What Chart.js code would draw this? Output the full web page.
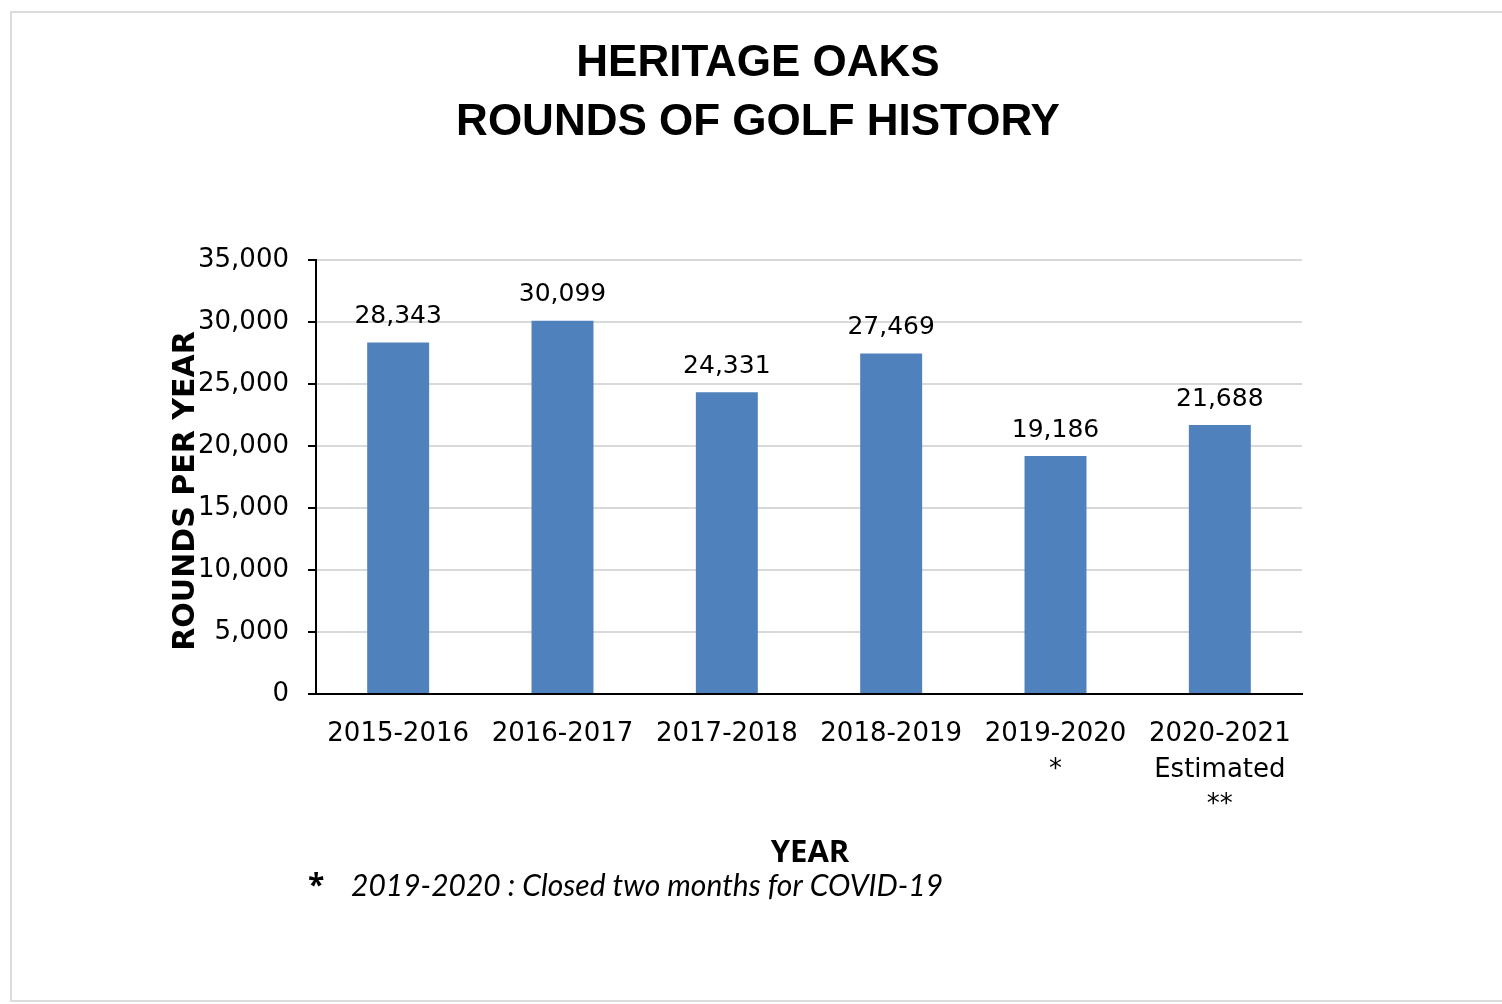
<!DOCTYPE html>
<html>
<head>
<meta charset="utf-8">
<script src="https://cdn.jsdelivr.net/npm/chart.js"></script>
<style>
  html, body { margin: 0; padding: 0; background: #fff; overflow: hidden; }
  #wrap { position: relative; width: 1502px; height: 1004px; overflow: hidden; }
  #frame { position: absolute; left: 10px; top: 11px; width: 1520px; height: 991px; border: 2px solid #dcdcdc; box-sizing: border-box; }
  canvas { position: absolute; left: 0; top: 0; }
</style>
</head>
<body>
<div id="wrap">
  <div id="frame"></div>
  <canvas id="golfChart" width="1502" height="1004"></canvas>
</div>
<script>
// chart data
const categories = ['2015-2016', '2016-2017', '2017-2018', '2018-2019', ['2019-2020', '*'], ['2020-2021', 'Estimated', '**']];
const rounds = [28343, 30099, 24331, 27469, 19186, 21688];
const yTicks = [0, 5000, 10000, 15000, 20000, 25000, 30000, 35000];
const titleLines = ['HERITAGE OAKS', 'ROUNDS OF GOLF HISTORY'];
const yTitle = 'ROUNDS PER YEAR';
const xTitle = 'YEAR';
const footnote = '2019-2020 : Closed two months for COVID-19';

const tickFont = '"DejaVu Sans", sans-serif';
const fmt = v => v.toLocaleString('en-US');

// titles, axis titles, footnote and bar value labels
const textPlugin = {
    id: 'textPlugin',
    afterDatasetsDraw(chart) {
        const ctx = chart.ctx;
        ctx.save();
        ctx.fillStyle = '#000';
        ctx.textAlign = 'center';
        ctx.textBaseline = 'middle';

        // values above bars
        ctx.font = '25px ' + tickFont;
        chart.getDatasetMeta(0).data.forEach((bar, i) => {
            ctx.fillText(fmt(rounds[i]), bar.x, bar.y - 26);
        });

        // main title
        ctx.font = 'bold 44px "Liberation Sans", sans-serif';
        ctx.fillText(titleLines[0], 758, 64);
        ctx.fillText(titleLines[1], 758, 123);

        // y title
        ctx.save();
        ctx.translate(186, 491);
        ctx.rotate(-Math.PI / 2);
        ctx.font = 'bold 30px "DejaVu Sans", sans-serif';
        ctx.fillText(yTitle, 0, 0);
        ctx.restore();

        // x title
        ctx.font = 'bold 31px "Open Sans", sans-serif';
        ctx.fillText(xTitle, 810, 853);

        // footnote
        ctx.textAlign = 'left';
        ctx.font = 'bold 30px "Open Sans", sans-serif';
        ctx.fillText('*', 308, 886);
        ctx.font = 'italic 30px Lato, sans-serif';
        ctx.fillText(footnote, 351, 886);
        ctx.restore();
    }
};

new Chart(document.getElementById('golfChart').getContext('2d'), {
    type: 'bar',
    data: {
        labels: categories,
        datasets: [{
            data: rounds,
            backgroundColor: '#4f81bd',
            categoryPercentage: 1,
            barPercentage: 0.377
        }]
    },
    options: {
        responsive: false,
        animation: false,
        layout: { padding: { top: 260, right: 200, left: 0, bottom: 0 } },
        plugins: { legend: { display: false }, tooltip: { enabled: false } },
        scales: {
            x: {
                grid: { display: false },
                border: { display: true, color: '#000', width: 2 },
                ticks: {
                    color: '#000',
                    font: { family: tickFont, size: 26, lineHeight: 1.36 },
                    padding: 15,
                    maxRotation: 0,
                    autoSkip: false
                },
                afterFit: s => { s.height = 310; }
            },
            y: {
                min: 0,
                max: 35000,
                afterBuildTicks: s => { s.ticks = yTicks.map(v => ({ value: v })); },
                grid: { color: '#d9d9d9', lineWidth: 2, tickColor: '#000', tickLength: 8 },
                border: { display: true, color: '#000', width: 2 },
                ticks: {
                    color: '#000',
                    font: { family: tickFont, size: 26 },
                    padding: 19,
                    callback: v => fmt(v)
                },
                afterFit: s => { s.width = 316; }
            }
        }
    },
    plugins: [textPlugin]
});
</script>
</body>
</html>
